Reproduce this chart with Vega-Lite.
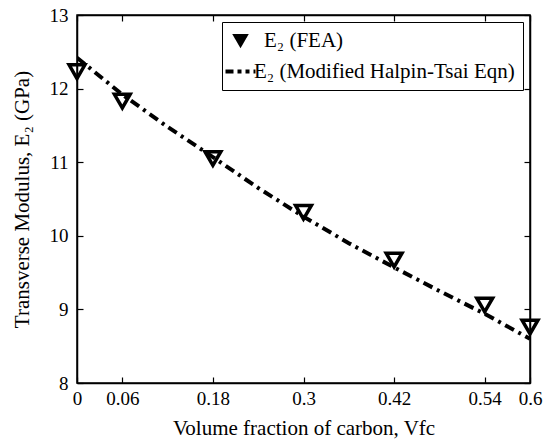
{
  "$schema": "https://vega.github.io/schema/vega-lite/v6.json",
  "width": 453,
  "height": 368,
  "autosize": "none",
  "padding": {"left": 77, "top": 15, "right": 13, "bottom": 64},
  "background": "white",
  "config": {
    "view": {"stroke": "black", "strokeWidth": 1.5},
    "font": "Liberation Serif, Times New Roman, DejaVu Serif, serif",
    "axis": {
      "grid": false,
      "domainColor": "black",
      "domainWidth": 1.5,
      "tickColor": "black",
      "tickWidth": 1.2,
      "tickSize": -6,
      "labelFont": "Liberation Serif, Times New Roman, DejaVu Serif, serif",
      "labelFontSize": 19,
      "labelColor": "black",
      "titleFont": "Liberation Serif, Times New Roman, DejaVu Serif, serif",
      "titleFontSize": 21,
      "titleFontWeight": "normal",
      "titleColor": "black"
    },
    "legend": {
      "labelFont": "Liberation Serif, Times New Roman, DejaVu Serif, serif"
    }
  },
  "datasets": {
    "fea": [
      {"vfc": 0, "e2": 12.23, "series": "E₂ (FEA)"},
      {"vfc": 0.06, "e2": 11.83, "series": "E₂ (FEA)"},
      {"vfc": 0.18, "e2": 11.05, "series": "E₂ (FEA)"},
      {"vfc": 0.3, "e2": 10.32, "series": "E₂ (FEA)"},
      {"vfc": 0.42, "e2": 9.67, "series": "E₂ (FEA)"},
      {"vfc": 0.54, "e2": 9.06, "series": "E₂ (FEA)"},
      {"vfc": 0.6, "e2": 8.76, "series": "E₂ (FEA)"}
    ],
    "eqn": [
      {"vfc": 0, "e2": 12.42, "series": "E₂ (Modified Halpin-Tsai Eqn)"},
      {"vfc": 0.06, "e2": 11.92, "series": "E₂ (Modified Halpin-Tsai Eqn)"},
      {"vfc": 0.12, "e2": 11.48, "series": "E₂ (Modified Halpin-Tsai Eqn)"},
      {"vfc": 0.18, "e2": 11.07, "series": "E₂ (Modified Halpin-Tsai Eqn)"},
      {"vfc": 0.24, "e2": 10.65, "series": "E₂ (Modified Halpin-Tsai Eqn)"},
      {"vfc": 0.3, "e2": 10.26, "series": "E₂ (Modified Halpin-Tsai Eqn)"},
      {"vfc": 0.36, "e2": 9.9, "series": "E₂ (Modified Halpin-Tsai Eqn)"},
      {"vfc": 0.42, "e2": 9.57, "series": "E₂ (Modified Halpin-Tsai Eqn)"},
      {"vfc": 0.48, "e2": 9.25, "series": "E₂ (Modified Halpin-Tsai Eqn)"},
      {"vfc": 0.54, "e2": 8.94, "series": "E₂ (Modified Halpin-Tsai Eqn)"},
      {"vfc": 0.6, "e2": 8.6, "series": "E₂ (Modified Halpin-Tsai Eqn)"}
    ]
  },
  "layer": [
    {
      "data": {"name": "eqn"},
      "mark": {"type": "line", "strokeWidth": 4, "strokeDash": [10, 5, 3, 5], "strokeCap": "butt", "clip": true},
      "encoding": {
        "x": {
          "field": "vfc", "type": "quantitative",
          "scale": {"domain": [0, 0.6], "nice": false, "zero": false},
          "axis": {"orient": "bottom", "values": [0, 0.06, 0.18, 0.3, 0.42, 0.54, 0.6], "format": ".2~f", "title": "Volume fraction of carbon, Vfc", "labelPadding": 12, "titlePadding": 9, "labelFlush": false, "labelOverlap": false}
        },
        "y": {
          "field": "e2", "type": "quantitative",
          "scale": {"domain": [8, 13], "nice": false, "zero": false},
          "axis": {"orient": "left", "values": [8, 9, 10, 11, 12, 13], "format": "d", "title": "Transverse Modulus, E₂ (GPa)", "labelPadding": 15, "titlePadding": 17, "labelFlush": false}
        },
        "color": {
          "field": "series", "type": "nominal",
          "scale": {"domain": ["E₂ (FEA)", "E₂ (Modified Halpin-Tsai Eqn)"], "range": ["black", "black"]},
          "legend": {
            "title": null,
            "orient": "top-right",
            "offset": 7,
            "strokeColor": "black",
            "fillColor": "white",
            "padding": 8,
            "cornerRadius": 0,
            "labelFont": "Liberation Serif, Times New Roman, DejaVu Serif, serif",
            "labelFontSize": 21,
            "labelColor": "black",
            "labelLimit": 400,
            "labelOffset": 3,
            "symbolSize": 900,
            "rowPadding": 9,
            "encode": {
              "symbols": {
                "update": {
                  "shape": {"signal": "datum.index === 0 ? 'triangle-down' : 'stroke'"},
                  "size": {"signal": "datum.index === 0 ? 150 : 900"},
                  "strokeDash": {"signal": "datum.index === 0 ? [1, 0] : [8, 4, 4, 4, 4, 4]"},
                  "strokeWidth": {"signal": "datum.index === 0 ? 2.5 : 4"},
                  "fill": {"signal": "datum.index === 0 ? 'black' : 'transparent'"},
                  "stroke": {"value": "black"},
                  "opacity": {"value": 1}
                }
              },
              "labels": {
                "update": {
                  "dx": {"signal": "datum.index === 0 ? 10 : 0"}
                }
              }
            }
          }
        }
      }
    },
    {
      "data": {"name": "fea"},
      "mark": {"type": "point", "shape": "triangle-down", "filled": false, "size": 250, "strokeWidth": 3.5, "opacity": 1},
      "encoding": {
        "x": {
          "field": "vfc", "type": "quantitative",
          "axis": {"orient": "top", "values": [0, 0.06, 0.18, 0.3, 0.42, 0.54, 0.6], "labels": false, "title": null}
        },
        "y": {
          "field": "e2", "type": "quantitative",
          "axis": {"orient": "right", "values": [8, 9, 10, 11, 12, 13], "labels": false, "title": null}
        },
        "color": {"field": "series", "type": "nominal"}
      }
    }
  ],
  "resolve": {"axis": {"x": "independent", "y": "independent"}}
}
